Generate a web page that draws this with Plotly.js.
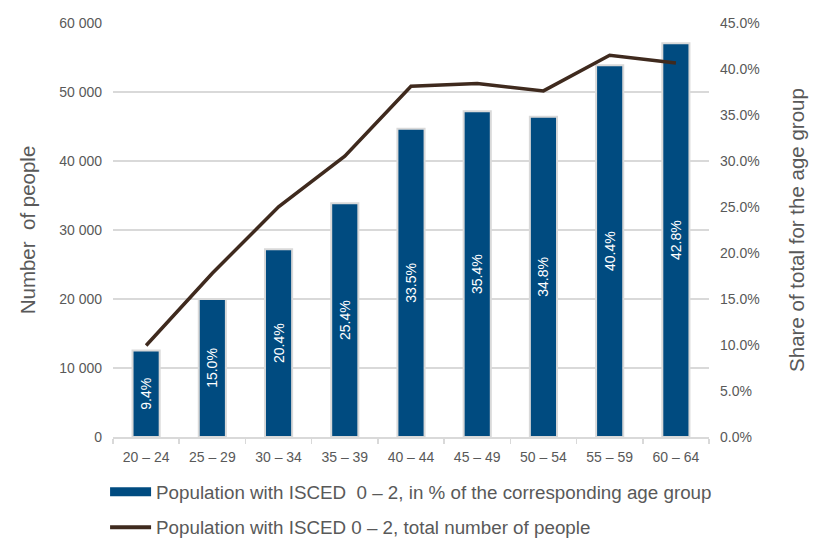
<!DOCTYPE html>
<html>
<head>
<meta charset="utf-8">
<script src="https://cdn.plot.ly/plotly-3.0.1.min.js"></script>
<style>html,body{margin:0;padding:0;background:#fff;}#chart{width:819px;height:553px;}</style>
</head>
<body>
<div id="chart"></div>
<script>
const ageGroups = ["20 – 24", "25 – 29", "30 – 34", "35 – 39", "40 – 44", "45 – 49", "50 – 54", "55 – 59", "60 – 64"];
const sharePct = [9.4, 15.0, 20.4, 25.4, 33.5, 35.4, 34.8, 40.4, 42.8];
const totalPeople = [13260, 23730, 33370, 40710, 50840, 51230, 50160, 55330, 54210];
const barName = "Population with ISCED  0 – 2, in % of the corresponding age group";
const lineName = "Population with ISCED 0 – 2, total number of people";
const leftTitle = "Number  of people";
const rightTitle = "Share of total for the age group";

const gray = "#595959";
const font = "'Liberation Sans', Arial, sans-serif";
const pad = n => "\u00a0".repeat(n);

const traces = [
  {
    type: "bar",
    x: ageGroups,
    y: sharePct,
    yaxis: "y",
    width: 0.41,
    marker: {color: "#004b80", line: {color: "#d9d9d9", width: 2}},
    text: sharePct.map(v => v.toFixed(1) + "%"),
    textposition: "inside",
    insidetextanchor: "middle",
    textangle: -90,
    textfont: {color: "#ffffff", size: 14, family: font},
    hoverinfo: "x+y",
    showlegend: false
  },
  {
    type: "scatter",
    mode: "lines",
    x: ageGroups,
    y: totalPeople,
    yaxis: "y2",
    line: {color: "#3f2a1e", width: 3.5},
    showlegend: false
  },
  {
    type: "scatter",
    mode: "lines",
    x: [ageGroups[0]],
    y: [null],
    yaxis: "y",
    name: barName,
    legendgroup: "a",
    line: {color: "#004b80", width: 9},
    showlegend: true
  },
  {
    type: "scatter",
    mode: "lines",
    x: [ageGroups[0]],
    y: [null],
    yaxis: "y2",
    name: lineName,
    legendgroup: "b",
    line: {color: "#3f2a1e", width: 4},
    showlegend: true
  }
];

const layout = {
  width: 819,
  height: 553,
  margin: {l: 113, r: 110, t: 23, b: 116, autoexpand: false},
  paper_bgcolor: "#ffffff",
  plot_bgcolor: "#ffffff",
  separators: ". ",
  font: {family: font, color: gray, size: 14},
  xaxis: {
    type: "category",
    showline: true,
    linecolor: "#d9d9d9",
    linewidth: 1.5,
    ticks: "outside",
    tickson: "boundaries",
    ticklen: 5,
    tickcolor: "#d9d9d9",
    tickwidth: 1.5,
    showgrid: false,
    automargin: false,
    tickfont: {size: 14, color: gray},
    ticklabelstandoff: 7
  },
  yaxis: {
    side: "right",
    range: [0, 45],
    dtick: 5,
    tickformat: ".1f",
    ticksuffix: "%",
    showgrid: false,
    zeroline: false,
    showline: false,
    automargin: false,
    tickfont: {size: 14, color: gray},
    ticklabelstandoff: 10,
    title: {text: rightTitle + pad(3), font: {size: 20.5, color: gray}, standoff: 30}
  },
  yaxis2: {
    side: "left",
    overlaying: "y",
    range: [0, 60000],
    dtick: 10000,
    tickformat: ",d",
    showgrid: true,
    gridcolor: "#d9d9d9",
    gridwidth: 1.5,
    zeroline: false,
    showline: false,
    automargin: false,
    tickfont: {size: 14, color: gray},
    ticklabelstandoff: 10,
    title: {text: leftTitle + pad(4), font: {size: 20.5, color: gray}, standoff: 17}
  },
  legend: {
    orientation: "v",
    x: -0.0133,
    xanchor: "left",
    yref: "container",
    y: 0.1447,
    yanchor: "top",
    traceorder: "grouped",
    tracegroupgap: 8,
    itemwidth: 41,
    font: {size: 18.8, color: gray, family: font},
    bgcolor: "rgba(0,0,0,0)"
  },
  showlegend: true
};

Plotly.newPlot("chart", traces, layout, {displayModeBar: false, staticPlot: true});
</script>
</body>
</html>
